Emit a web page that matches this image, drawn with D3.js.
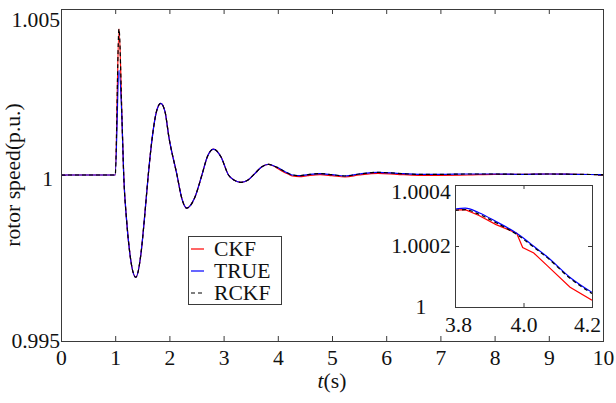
<!DOCTYPE html>
<html>
<head>
<meta charset="utf-8">
<script src="https://cdn.jsdelivr.net/npm/d3@7"></script>
<style>
  html, body { margin: 0; padding: 0; background: #fff; }
  svg { display: block; }
</style>
</head>
<body>
<div id="chart"></div>
<script>
// Rotor speed response after a disturbance at t = 1 s (per unit)
const time = [0, 1.0, 1.07, 1.125, 1.157, 1.21, 1.27, 1.38, 1.476, 1.537, 1.61, 1.685, 1.76, 1.84, 1.92, 1.99,
  2.14, 2.23, 2.32, 2.46, 2.6, 2.7, 2.81, 2.95, 3.09, 3.2, 3.32, 3.45, 3.58, 3.7, 3.83, 3.92, 4.0, 4.1, 4.2,
  4.27, 4.4, 4.55, 4.78, 5.0, 5.24, 5.5, 5.85, 6.2, 6.6, 7.0, 7.5, 8.0, 8.5, 9.0, 9.5, 10];

const ckf = [1.0, 1.0, 1.0044, 1.0017, 1.0, 0.99864, 0.99764, 0.99692, 0.99764, 0.99864, 1.0, 1.00115, 1.0019, 1.00216, 1.0019, 1.00115,
  1.0, 0.99929, 0.999, 0.99929, 1.0, 1.00055, 1.00078, 1.00055, 1.0, 0.99984, 0.99978, 0.99985, 1.00005, 1.00024, 1.000318, 1.00027, 1.000195, 1.0001, 1.000022,
  0.99997, 0.99995, 0.99998, 1.00001, 0.99998, 0.99994, 1.0, 1.00005, 1.00002, 0.99999, 0.99999, 1.0, 1.00002, 1.00002, 1.00003, 1.00002, 1.00001];

const trueSpeed = [1.0, 1.0, 1.00316, 1.00166, 1.0, 0.99864, 0.99764, 0.99692, 0.99764, 0.99864, 1.0, 1.00115, 1.0019, 1.00216, 1.0019, 1.00115,
  1.0, 0.99929, 0.999, 0.99929, 1.0, 1.00055, 1.00078, 1.00055, 1.0, 0.99984, 0.99978, 0.99985, 1.00005, 1.00024, 1.000324, 1.00028, 1.000226, 1.00013, 1.000048,
  1.0, 0.99998, 1.00001, 1.00004, 1.00001, 0.99997, 1.00003, 1.00008, 1.00005, 1.00002, 1.00002, 1.00003, 1.00003, 1.00002, 1.00003, 1.00002, 1.00001];

const rckf = [1.0, 1.0, 1.0044, 1.0017, 1.0, 0.99864, 0.99764, 0.99692, 0.99764, 0.99864, 1.0, 1.00115, 1.0019, 1.00216, 1.0019, 1.00115,
  1.0, 0.99929, 0.999, 0.99929, 1.0, 1.00055, 1.00078, 1.00055, 1.0, 0.99984, 0.99978, 0.99985, 1.00005, 1.00024, 1.000319, 1.000276, 1.000222, 1.000126, 1.000044,
  1.0, 0.99998, 1.00001, 1.00004, 1.00001, 0.99997, 1.00003, 1.00008, 1.00005, 1.00002, 1.00002, 1.00003, 1.00003, 1.00002, 1.00003, 1.00002, 1.00001];

// Close-up window 3.8 s – 4.2 s
const zoomTime = [3.8, 3.83, 3.87, 3.92, 3.98, 3.9976, 4.03, 4.07, 4.136, 4.2];
const zoomCkf  = [1.000318, 1.000319, 1.000300, 1.00027, 1.000242, 1.000195, 1.000177, 1.000135, 1.000065, 1.000022];
const zoomTrue = [1.000321, 1.000324, 1.000309, 1.00028, 1.000242, 1.000228, 1.000199, 1.000164, 1.000097, 1.000048];
const zoomRckf = [1.000317, 1.000319, 1.000304, 1.000276, 1.000238, 1.000224, 1.000196, 1.000161, 1.000094, 1.000044];

const xTicks = [0, 1, 2, 3, 4, 5, 6, 7, 8, 9, 10];
const yTicks = [0.995, 1, 1.005];
const yTickLabels = ["0.995", "1", "1.005"];
const zoomXTicks = [3.8, 4.0, 4.2];
const zoomXTickLabels = ["3.8", "4.0", "4.2"];
const zoomYTicks = [1, 1.0002, 1.0004];
const zoomYTickLabels = ["1", "1.0002", "1.0004"];

const seriesNames = ["CKF", "TRUE", "RCKF"];
const seriesColors = ["#ff0000", "#0000ff", "#000000"];
const seriesDash = [null, null, "4,3"];

const W = 616, H = 403;
const FONT = "'Liberation Serif', 'Times New Roman', Times, serif";
const FS = 20;            // label font size
const STRETCH = 1.08;     // horizontal widening of glyphs

const svg = d3.select("#chart").append("svg").attr("width", W).attr("height", H)
  .attr("font-family", FONT);

const x = d3.scaleLinear().domain([0, 10]).range([61, 603]);
const y = d3.scaleLinear().domain([0.995, 1.005]).range([341, 9]);

const axisColor = "#3a3a3a";

svg.append("clipPath").attr("id", "mainClip").append("rect")
  .attr("x", x.range()[0]).attr("y", y.range()[1])
  .attr("width", x.range()[1] - x.range()[0]).attr("height", y.range()[0] - y.range()[1]);

function styleAxis(g) {
  g.attr("font-family", FONT).attr("font-size", FS);
  g.select(".domain").remove();
  g.selectAll(".tick line").attr("stroke", axisColor).attr("stroke-width", 1);
  g.selectAll(".tick text").attr("fill", "#111");
}

// main axes, ticks pointing inward on all four sides
svg.append("g").attr("transform", `translate(0,${y.range()[0]})`)
  .call(d3.axisBottom(x).tickValues(xTicks).tickFormat(d3.format("d")).tickSize(-5).tickSizeOuter(0).tickPadding(10))
  .call(styleAxis);
svg.append("g").attr("transform", `translate(0,${y.range()[1]})`)
  .call(d3.axisTop(x).tickValues(xTicks).tickFormat("").tickSize(-5).tickSizeOuter(0))
  .call(styleAxis);
const yAxisG = svg.append("g").attr("transform", `translate(${x.range()[0]},0)`)
  .call(d3.axisLeft(y).tickValues(yTicks).tickFormat((d, i) => yTickLabels[i]).tickSize(-5).tickSizeOuter(0).tickPadding(1))
  .call(styleAxis);
// nudge labels: the top one sits just inside the frame, the middle one a little inboard
yAxisG.selectAll(".tick text")
  .attr("dx", d => (d === 1 ? -7 : 0))
  .attr("dy", d => (d === 1.005 ? "0.85em" : d === 1 ? "0.52em" : "0.32em"));
svg.append("g").attr("transform", `translate(${x.range()[1]},0)`)
  .call(d3.axisRight(y).tickValues(yTicks).tickFormat("").tickSize(-5).tickSizeOuter(0))
  .call(styleAxis);

// main curves
const mainLine = d3.line().curve(d3.curveMonotoneX).x(d => x(d[0])).y(d => y(d[1]));
const mainSeries = [ckf, trueSpeed, rckf];
const plot = svg.append("g").attr("clip-path", "url(#mainClip)");
mainSeries.forEach((vals, i) => {
  plot.append("path")
    .datum(time.map((t, k) => [t, vals[k]]))
    .attr("d", mainLine)
    .attr("fill", "none")
    .attr("stroke", seriesColors[i])
    .attr("stroke-width", 1.2)
    .attr("stroke-dasharray", seriesDash[i]);
});

// frame
svg.append("rect")
  .attr("x", x.range()[0] + 0.5).attr("y", y.range()[1] + 0.5)
  .attr("width", x.range()[1] - x.range()[0]).attr("height", y.range()[0] - y.range()[1])
  .attr("fill", "none").attr("stroke", axisColor).attr("stroke-width", 1);

// axis titles
const xt = svg.append("text").attr("x", (x.range()[0] + x.range()[1]) / 2).attr("y", 388)
  .attr("text-anchor", "middle").attr("font-size", FS).attr("fill", "#111");
xt.append("tspan").attr("font-style", "italic").text("t");
xt.append("tspan").text("(s)");

svg.append("text").attr("transform", `translate(20,${(y.range()[0] + y.range()[1]) / 2}) rotate(-90)`)
  .attr("text-anchor", "middle").attr("font-size", FS).attr("fill", "#111").text("rotor speed(p.u.)");

// legend
const leg = svg.append("g");
leg.append("rect").attr("x", 188.5).attr("y", 236.5).attr("width", 93).attr("height", 68)
  .attr("fill", "#fff").attr("stroke", axisColor).attr("stroke-width", 1);
seriesNames.forEach((name, i) => {
  const cy = 249 + i * 22;
  leg.append("line").attr("x1", 191).attr("x2", 204).attr("y1", cy).attr("y2", cy)
    .attr("stroke", seriesColors[i]).attr("stroke-width", 1.2).attr("stroke-dasharray", seriesDash[i]);
  leg.append("text").attr("x", 214).attr("y", cy).attr("dy", "0.35em")
    .attr("font-size", FS).attr("fill", "#111").text(name);
});

// inset close-up
const xi = d3.scaleLinear().domain([3.8, 4.2]).range([455, 592]);
const yi = d3.scaleLinear().domain([1, 1.0004]).range([307, 185]);

const inset = svg.append("g");
inset.append("rect").attr("x", xi.range()[0]).attr("y", yi.range()[1])
  .attr("width", xi.range()[1] - xi.range()[0]).attr("height", yi.range()[0] - yi.range()[1])
  .attr("fill", "#fff");
svg.append("clipPath").attr("id", "insetClip").append("rect")
  .attr("x", xi.range()[0]).attr("y", yi.range()[1])
  .attr("width", xi.range()[1] - xi.range()[0]).attr("height", yi.range()[0] - yi.range()[1]);

const ixAxis = inset.append("g").attr("transform", `translate(0,${yi.range()[0]})`)
  .call(d3.axisBottom(xi).tickValues(zoomXTicks).tickFormat((d, i) => zoomXTickLabels[i]).tickSize(-4).tickSizeOuter(0).tickPadding(11))
  .call(styleAxis);
ixAxis.selectAll(".tick text")
  .attr("dx", d => (d === 4.2 ? -5 : d === 3.8 ? 3 : 0));
inset.append("g").attr("transform", `translate(0,${yi.range()[1]})`)
  .call(d3.axisTop(xi).tickValues(zoomXTicks).tickFormat("").tickSize(-4).tickSizeOuter(0))
  .call(styleAxis);
const iyAxis = inset.append("g").attr("transform", `translate(${xi.range()[0]},0)`)
  .call(d3.axisLeft(yi).tickValues(zoomYTicks).tickFormat((d, i) => zoomYTickLabels[i]).tickSize(-4).tickSizeOuter(0).tickPadding(3))
  .call(styleAxis);
// inset y labels are centred in a column left of the box
iyAxis.selectAll(".tick text")
  .attr("text-anchor", "middle").attr("x", -34)
  .attr("dy", d => (d === 1.0004 ? "0.68em" : "0.34em"));
inset.append("g").attr("transform", `translate(${xi.range()[1]},0)`)
  .call(d3.axisRight(yi).tickValues(zoomYTicks).tickFormat("").tickSize(-4).tickSizeOuter(0))
  .call(styleAxis);

const insetPlot = inset.append("g").attr("clip-path", "url(#insetClip)");
const zoomSeries = [zoomCkf, zoomTrue, zoomRckf];
const zoomCurves = [d3.curveLinear, d3.curveMonotoneX, d3.curveMonotoneX];
zoomSeries.forEach((vals, i) => {
  insetPlot.append("path")
    .datum(zoomTime.map((t, k) => [t, vals[k]]))
    .attr("d", d3.line().curve(zoomCurves[i]).x(d => xi(d[0])).y(d => yi(d[1])))
    .attr("fill", "none")
    .attr("stroke", seriesColors[i])
    .attr("stroke-width", 1.2)
    .attr("stroke-dasharray", seriesDash[i]);
});
inset.append("rect").attr("x", xi.range()[0] + 0.5).attr("y", yi.range()[1] + 0.5)
  .attr("width", xi.range()[1] - xi.range()[0]).attr("height", yi.range()[0] - yi.range()[1])
  .attr("fill", "none").attr("stroke", axisColor).attr("stroke-width", 1);

// widen glyphs slightly to the serif style used in the figure
svg.selectAll("text").each(function () {
  const len = this.getComputedTextLength();
  if (len > 0) d3.select(this).attr("textLength", len * STRETCH).attr("lengthAdjust", "spacingAndGlyphs");
});
</script>
</body>
</html>
